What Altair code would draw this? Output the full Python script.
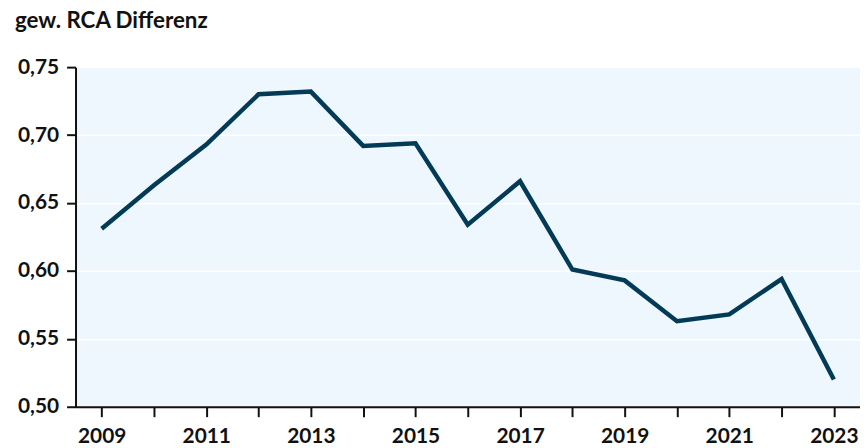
import altair as alt
import pandas as pd

years = list(range(2009, 2024))
values = [0.631, 0.663, 0.693, 0.730, 0.732, 0.692, 0.694, 0.634, 0.666,
          0.601, 0.593, 0.563, 0.568, 0.594, 0.520]
y_ticks = [0.50, 0.55, 0.60, 0.65, 0.70, 0.75]

df = pd.DataFrame({"Jahr": years, "Wert": values})

FONT = "Lato"

chart = alt.Chart(df).mark_line(color="#033a55", strokeWidth=4.5, strokeJoin="miter").encode(
    x=alt.X("Jahr:Q",
            scale=alt.Scale(domain=[2008.5, 2023.5], nice=False, zero=False),
            axis=alt.Axis(values=years, title=None, grid=False,
                          labelExpr="datum.value % 2 == 1 ? format(datum.value, 'd') : ''",
                          labelFlush=False, labelOverlap=False, tickSize=10, labelPadding=9)),
    y=alt.Y("Wert:Q",
            scale=alt.Scale(domain=[0.50, 0.75], nice=False, zero=False),
            axis=alt.Axis(values=y_ticks, title=None, grid=True,
                          labelExpr="replace(format(datum.value, '.2f'), '.', ',')",
                          tickSize=9, labelPadding=8)),
).properties(
    width=790, height=342,
    autosize=alt.AutoSizeParams(type="none"),
    padding={"left": 68, "top": 58, "right": 0, "bottom": 40},
    title=alt.Title("gew. RCA Differenz", anchor="start", frame="group",
                    dx=-61, offset=24, font=FONT, fontSize=22.5, fontWeight="bold",
                    color="#111111"),
).configure_view(
    fill="#eef6fe", stroke=None
).configure_axis(
    domainColor="#111111", domainWidth=2, tickColor="#111111", tickWidth=2,
    labelFont=FONT, labelFontSize=21, labelFontWeight="bold", labelColor="#111111",
    gridColor="#ffffff", gridWidth=1.5,
)

chart.save("out.html", embed_options={"renderer": "svg", "actions": False})
